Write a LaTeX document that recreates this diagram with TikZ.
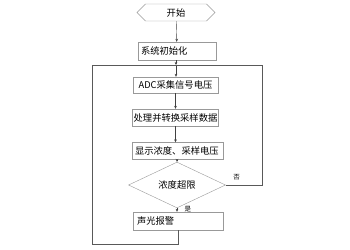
\documentclass[tikz,border=0pt]{standalone}
\usepackage{fontspec}
\newfontfamily\cjk{Noto Sans CJK SC}
\usetikzlibrary{shapes.geometric,shapes.symbols,arrows.meta}
\begin{document}
\begin{tikzpicture} [x = 1pt, y = -1pt,
	box/.style = {draw = gray!80, fill = white, inner sep = 0pt, font = \cjk\fontsize{9.3}{10}\selectfont},
	flow/.style = {draw = black!75, -{Stealth[length = 3pt, width = 2.6pt]}},
	loop/.style = {draw = black!65}]
	\useasboundingbox (0,0) rectangle (350,249);
	\node [box, shape = signal, signal to = west and east, minimum width = 78pt, minimum height = 17pt] (start) at (176,12.5) {开始};
	\node [box, minimum width = 78pt, minimum height = 18pt, text width = 72pt, align = left] (init) at (177,51) {系统初始化};
	\coordinate (join) at (176,65);
	\coordinate (topleft) at (92,65);
	\coordinate (topright) at (262,65);
	\node [box, minimum width = 85pt, minimum height = 16pt] (adc) at (175.5,85) {ADC采集信号电压};
	\node [box, minimum width = 86pt, minimum height = 17pt] (proc) at (175.5,117.5) {处理并转换采样数据};
	\node [box, minimum width = 91pt, minimum height = 17pt, text width = 85pt, align = left] (disp) at (177.5,151) {显示浓度、采样电压};
	\node [box, shape = diamond, minimum width = 97pt, minimum height = 24pt] (judge) at (177,185) {浓度超限};
	\node [box, minimum width = 90pt, minimum height = 18pt, text width = 82pt, align = left] (alarm) at (178,221) {声光报警};
	\coordinate (botleft) at (92,244);
	% main flow
	\draw [flow] (start) -- (init);
	\draw [flow] (init.south -| join) -- (join);
	\draw [flow] (join) -- (adc.north -| join);
	\draw [flow] (adc.south -| proc) -- (proc);
	\draw [flow] (proc.south) -- (proc.south |- disp.north);
	\draw [flow] (disp.south -| judge) -- (judge);
	\draw [flow] (judge) -- (judge.south |- alarm.north) node [pos = 0.35, right = 4pt, font = \cjk\fontsize{6.5}{7}\selectfont] (yes) {是};
	% loops back
	\draw [loop] (judge.east) -- (judge.east -| topright) node [pos = 0.3, above = 1pt, font = \cjk\fontsize{6.5}{7}\selectfont] (no) {否} -- (topright) -- (topleft);
	\draw [loop] (alarm.south) -- (alarm.south |- botleft) -- (botleft) -- (topleft);
\end{tikzpicture}
\end{document}
